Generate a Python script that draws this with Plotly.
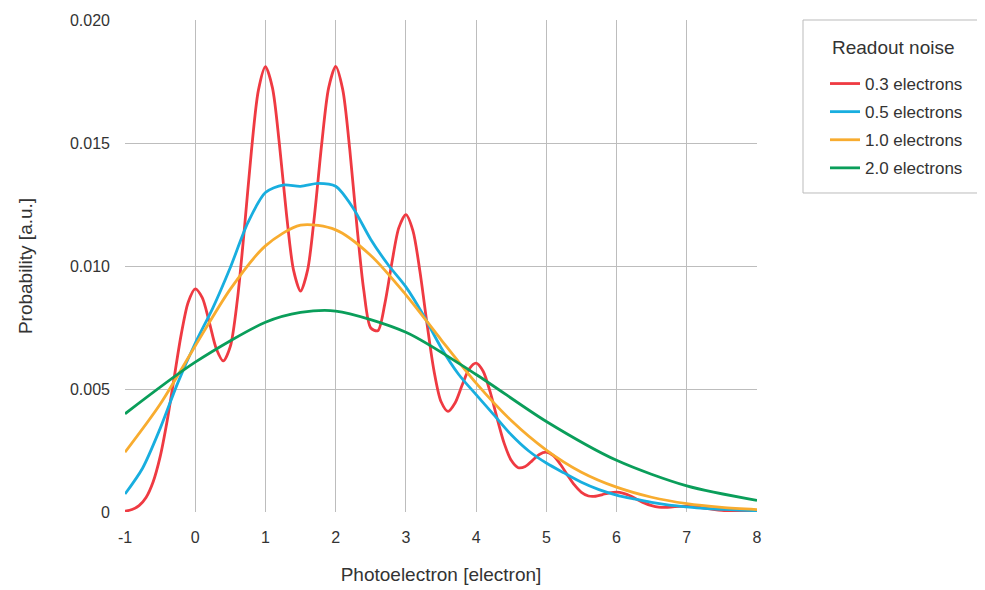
import plotly.graph_objects as go

# x grids
x_red = [round(-1 + 0.1 * i, 2) for i in range(91)]
y_red = [0.00003, 0.00010, 0.00026, 0.00059, 0.00122, 0.00224, 0.00370, 0.00546, 0.00721, 0.00853,
         0.00907, 0.00871, 0.00772, 0.00664, 0.00614, 0.00673, 0.00862, 0.01151, 0.01467, 0.01715,
         0.01810, 0.01724, 0.01492, 0.01210, 0.00983, 0.00898, 0.00983, 0.01210, 0.01493, 0.01724,
         0.01811, 0.01718, 0.01476, 0.01170, 0.00902, 0.00748, 0.00737, 0.00846, 0.01012, 0.01156,
         0.01209, 0.01144, 0.00978, 0.00767, 0.00574, 0.00449, 0.00409, 0.00443, 0.00515, 0.00581,
         0.00605, 0.00572, 0.00488, 0.00380, 0.00279, 0.00210, 0.00180, 0.00185, 0.00209, 0.00234,
         0.00243, 0.00229, 0.00194, 0.00151, 0.00110, 0.00080, 0.00065, 0.00064, 0.00071, 0.00078,
         0.00081, 0.00076, 0.00065, 0.00050, 0.00036, 0.00026, 0.00020, 0.00019, 0.00021, 0.00023,
         0.00023, 0.00022, 0.00018, 0.00014, 0.00010, 0.00007, 0.00005, 0.00005, 0.00005, 0.00006,
         0.00006]

x_blue = [round(-1 + 0.25 * i, 2) for i in range(37)]
y_blue = [0.00073, 0.00178, 0.00339, 0.00524, 0.00686, 0.00829, 0.00994, 0.01176, 0.01299, 0.01329,
          0.01324, 0.01336, 0.01324, 0.01235, 0.01108, 0.01004, 0.00915, 0.00800, 0.00669, 0.00560,
          0.00477, 0.00396, 0.00314, 0.00248, 0.00199, 0.00159, 0.00121, 0.00091, 0.00069, 0.00053,
          0.00039, 0.00028, 0.00021, 0.00015, 0.00011, 0.00008, 0.00005]

x_orange = [round(-1 + 0.5 * i, 2) for i in range(19)]
y_orange = [0.00243, 0.00438, 0.00675, 0.00906, 0.01082, 0.01166, 0.01147, 0.01043, 0.00883, 0.00701,
            0.00524, 0.00372, 0.00252, 0.00162, 0.00101, 0.00060, 0.00034, 0.00019, 0.00010]

x_green = [-1, 0, 1, 1.5, 2, 3, 4, 5, 6, 7, 8]
y_green = [0.00399, 0.00609, 0.00771, 0.00811, 0.00817, 0.00731, 0.00559, 0.00368, 0.00210, 0.00106, 0.00047]

series_names = ["0.3 electrons", "0.5 electrons", "1.0 electrons", "2.0 electrons"]
colors = ["#EF3A42", "#18AEDF", "#F8AC2F", "#0A9E5A"]
legend_title = "Readout noise"

x_ticks = list(range(-1, 9))
y_ticks = [0, 0.005, 0.010, 0.015, 0.020]
y_tick_text = ["0", "0.005", "0.010", "0.015", "0.020"]

fig = go.Figure()
data = [(x_red, y_red), (x_blue, y_blue), (x_orange, y_orange), (x_green, y_green)]
for i, (xs, ys) in enumerate(data):
    fig.add_trace(go.Scatter(
        x=xs, y=ys, mode="lines", name=series_names[i],
        legendgroup=f"g{i}",
        line=dict(color=colors[i], width=2.8, shape="spline", smoothing=0.8),
    ))

font_family = "Liberation Sans, Arial, sans-serif"
txt = "#333333"
fig.update_layout(
    width=985, height=590,
    margin=dict(l=117, r=236, t=12, b=86),
    paper_bgcolor="white", plot_bgcolor="white",
    font=dict(family=font_family, size=16, color=txt),
    xaxis=dict(
        range=[-1, 8], tickvals=x_ticks, ticktext=[str(v) for v in x_ticks],
        showgrid=True, gridcolor="#BDBDBD", gridwidth=1,
        zeroline=False, showline=False, ticks="", automargin=False,
        ticklabelstandoff=14,
        tickfont=dict(size=16, color=txt),
        title=dict(text="Photoelectron [electron]", font=dict(size=19, color=txt), standoff=22),
    ),
    yaxis=dict(
        range=[0, 0.020], tickvals=y_ticks, ticktext=y_tick_text,
        showgrid=True, gridcolor="#BDBDBD", gridwidth=1,
        zeroline=False, showline=False, ticks="", automargin=False,
        ticklabelstandoff=14,
        tickfont=dict(size=16, color=txt),
        title=dict(text="Probability [a.u.]", font=dict(size=19, color=txt), standoff=32),
    ),
    legend=dict(
        x=1.1076, y=0.9065, xanchor="left", yanchor="top",
        borderwidth=0, bgcolor="rgba(0,0,0,0)",
        font=dict(size=17, color=txt),
        tracegroupgap=3,
    ),
    shapes=[dict(
        type="rect", xref="paper", yref="paper",
        x0=1.0728, x1=1.40, y0=0.6484, y1=1.0,
        line=dict(color="#BBBBBB", width=1), fillcolor="rgba(0,0,0,0)", layer="below",
    )],
    annotations=[dict(
        text=legend_title, xref="paper", yref="paper",
        x=1.1155, y=0.9431, xanchor="left", yanchor="middle",
        showarrow=False, font=dict(size=19, color=txt),
    )],
)

fig.write_html("out.html")
